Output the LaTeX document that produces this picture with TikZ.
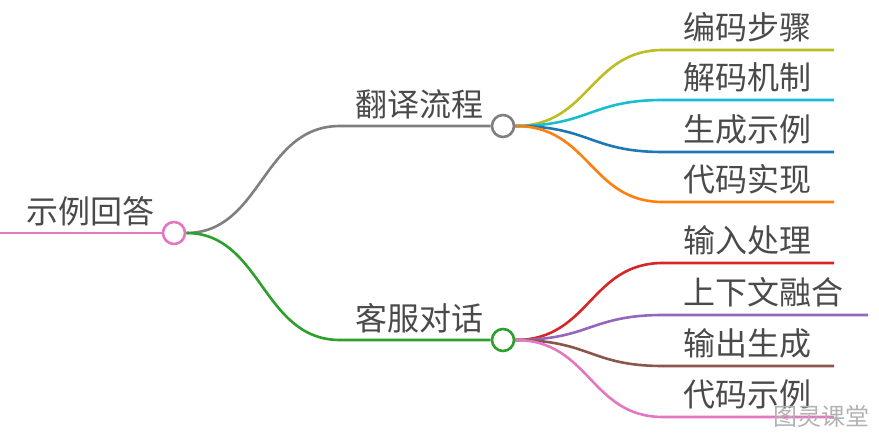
\documentclass[tikz,border=0pt]{standalone}
\usepackage{fontspec}
\newfontfamily\cjk{Noto Sans CJK SC}
\definecolor{cgray}{HTML}{7F7F7F}
\definecolor{cgreen}{HTML}{2CA02C}
\definecolor{cpink}{HTML}{E377C2}
\definecolor{colive}{HTML}{BCBD22}
\definecolor{ccyan}{HTML}{17BECF}
\definecolor{cblue}{HTML}{1F77B4}
\definecolor{corange}{HTML}{FF7F0E}
\definecolor{cred}{HTML}{D62728}
\definecolor{cpurple}{HTML}{9467BD}
\definecolor{cbrown}{HTML}{8C564B}
\definecolor{ctext}{HTML}{4A4A4A}
\begin{document}
\begin{tikzpicture}[x=1pt,y=-1pt,
  dot/.style={circle,draw=#1,line width=2.6pt,fill=white,minimum size=22pt,inner sep=0pt},
  lbl/.style={anchor=base west,inner sep=0pt,text=ctext,font=\cjk\fontsize{32}{34}\selectfont},
  edge/.style={draw=#1,line width=2.6pt},
  ]
\useasboundingbox (0,0) rectangle (879,438);
% root
\coordinate (rs) at (0,233);
\node[dot=cpink] (root) at (174,233) {};
\node[lbl] (troot) at (26,224) {示例回答};
\draw[edge=cpink] (rs) -- (root.west);
% level 1
\node[dot=cgray] (a) at (503,126) {};
\node[dot=cgreen] (b) at (503,340) {};
\coordinate (ah) at (340,126);
\coordinate (bh) at (340,340);
\node[lbl] (ta) at (355,117) {翻译流程};
\node[lbl] (tb) at (355,331) {客服对话};
\draw[edge=cgray] (root.east) .. controls (262,233) and (262,126) .. (ah) -- (a.west);
\draw[edge=cgreen] (root.east) .. controls (262,233) and (262,340) .. (bh) -- (b.west);
% level 2 under a
\foreach \n/\y/\c/\t/\e in {a1/50/colive/编码步骤/834, a2/100/ccyan/解码机制/834, a3/152/cblue/生成示例/834, a4/202/corange/代码实现/834}{
  \coordinate (\n s) at (663,\y);
  \coordinate (\n e) at (\e,\y);
  \node[lbl] (t\n) at (683,\y-10) {\t};
  \draw[edge=\c] (a.east) .. controls (590,126) and (590,\y) .. (\n s) -- (\n e);
}
\foreach \n/\y/\c/\t/\e in {b1/263/cred/输入处理/834, b2/315/cpurple/上下文融合/868, b3/366/cbrown/输出生成/834, b4/417/cpink/代码示例/834}{
  \coordinate (\n s) at (663,\y);
  \coordinate (\n e) at (\e,\y);
  \node[lbl] (t\n) at (683,\y-10) {\t};
  \draw[edge=\c] (b.east) .. controls (590,340) and (590,\y) .. (\n s) -- (\n e);
}
\node[anchor=base west,inner sep=0pt,text=black!30,font=\cjk\fontsize{24}{26}\selectfont] (wm) at (773,426) {图灵课堂};
\end{tikzpicture}
\end{document}
